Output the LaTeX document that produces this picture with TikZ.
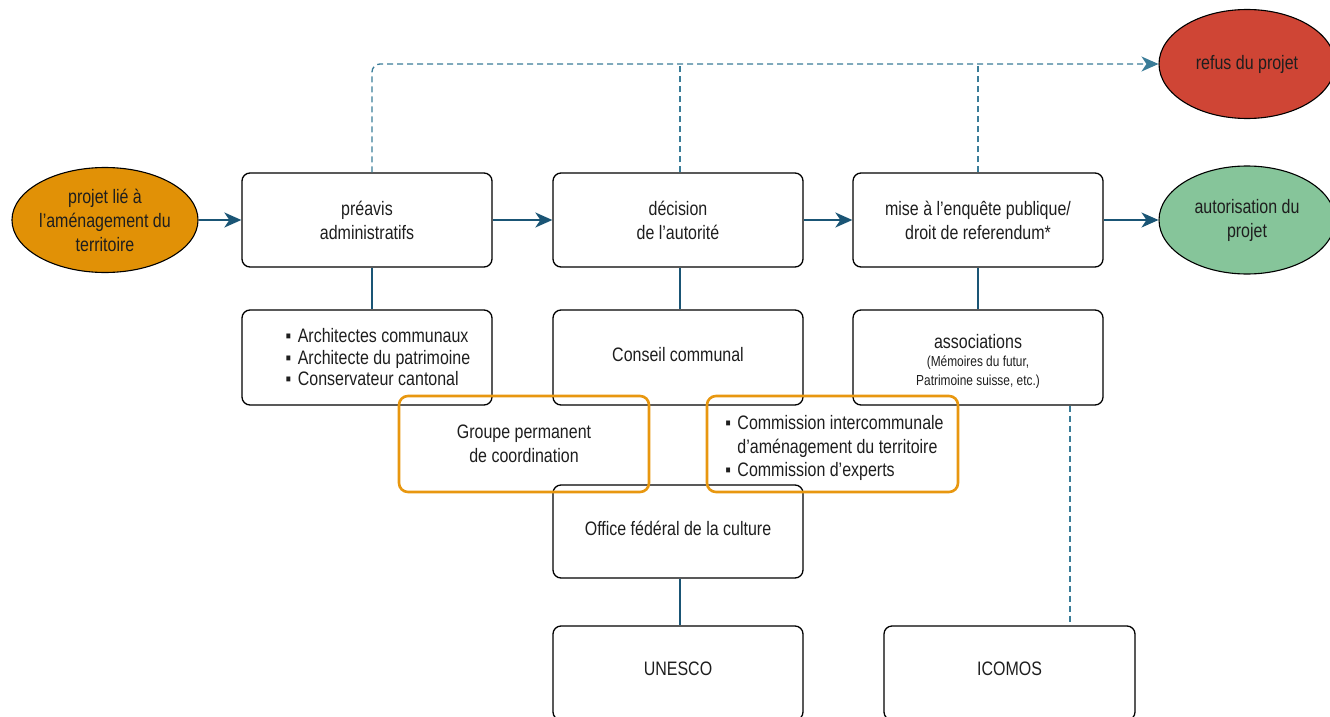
\documentclass[tikz,border=0pt]{standalone}
\usepackage{fontspec}
\setmainfont{Liberation Sans}[FakeStretch=0.82]
\usetikzlibrary{shapes.geometric,arrows.meta,calc}
\definecolor{txt}{HTML}{1E1E1E}
\definecolor{conn}{HTML}{1A5575}
\definecolor{dashc}{HTML}{3A7C98}
\definecolor{orfill}{HTML}{E19106}
\definecolor{orline}{HTML}{E8970F}
\definecolor{redfill}{HTML}{CF4535}
\definecolor{grnfill}{HTML}{86C59A}
\newcommand{\bul}{\makebox[0.62em][l]{▪}}
\newcommand{\bulsp}{\hspace*{0.62em}}
\newcommand{\smalltxt}[1]{{\fontsize{14.5}{19.5}\selectfont #1}}
\newcommand{\up}[2]{\raisebox{#1}[\height][\depth]{#2}}
\tikzset{
  every node/.style={text=txt, inner sep=0pt},
  maintext/.style={font=\fontsize{19.5}{24}\selectfont, align=center},
  box/.style={draw=black, line width=1.3pt, rounded corners=8pt,
    minimum width=250pt, minimum height=94pt, maintext},
  orbox/.style={draw=orline, line width=2.6pt, rounded corners=9pt,
    minimum width=250pt, minimum height=96pt, maintext},
  oval/.style={ellipse, draw=black, line width=1.1pt, maintext},
  inner text/.style={maintext, text=txt},
  flow/.style={draw=conn, line width=1.6pt,
    -{Stealth[length=17pt,width=15pt,inset=5pt]}},
  link/.style={draw=conn, line width=1.3pt},
  dlink/.style={draw=dashc, line width=1.3pt, dash pattern=on 6pt off 4pt},
  darrow/.style={dlink, -{Stealth[length=17pt,width=15pt,inset=5pt]}, rounded corners=8pt}
}
\begin{document}
\begin{tikzpicture}[x=1pt,y=-1pt]
\useasboundingbox (0,0) rectangle (1330,717);

% start and end points of the procedure
\node[oval, fill=orfill, minimum width=184pt, minimum height=105pt] (start) at (105,220)
  {projet lié à\\l’aménagement du\\territoire};
\node[oval, fill=redfill, minimum width=176pt, minimum height=109pt] (refus) at (1247,64)
  {refus du projet};
\node[oval, fill=grnfill, minimum width=176pt, minimum height=108pt] (auto) at (1247,220)
  {autorisation du\\projet};

% main sequence
\node[box] (pre) at (367,220) {préavis\\administratifs};
\node[box] (dec) at (678,220) {décision\\de l’autorité};
\node[box] (mise) at (978,220) {mise à l’enquête publique/\\droit de referendum*};

% bodies consulted at each step
\node[box, minimum height=95pt,
  label={[inner text, align=left, font=\fontsize{19.5}{21.5}\selectfont, xshift=11pt]center:{\bul Architectes communaux\\\bul Architecte du patrimoine\\\bul Conservateur cantonal}}]
  (arch) at (367,357.5) {};
\node[box, minimum height=95pt] (cons) at (678,357.5) {\up{3pt}{Conseil communal}};
\node[box, minimum height=95pt,
  label={[inner text, yshift=-4pt]center:{associations\\[-6pt]\smalltxt{(Mémoires du futur,}\\[-5pt]\smalltxt{Patrimoine suisse, etc.)}}}]
  (asso) at (978,357.5) {};
\node[box, minimum height=93pt] (off) at (678,531.5) {\up{3.5pt}{Office fédéral de la culture}};
\node[box] (une) at (678,673) {\up{4pt}{UNESCO}};
\node[box, minimum width=251pt] (ico) at (1009.5,673) {\up{4pt}{ICOMOS}};

% coordination groups
\node[orbox] (grp) at (524,444) {Groupe permanent\\de coordination};
\node[orbox, minimum width=251pt,
  label={[inner text, align=left, font=\fontsize{19.5}{23.5}\selectfont, yshift=-4pt, xshift=2pt]center:{\bul Commission intercommunale\\\bulsp d’aménagement du territoire\\\bul Commission d’experts}}]
  (com) at (832.5,444) {};

% flow arrows
\draw[flow] (start.east) -- (pre.west);
\draw[flow] (pre.east) -- (dec.west);
\draw[flow] (dec.east) -- (mise.west);
\draw[flow] (mise.east) -- (auto.west);

% solid links
\draw[link] ([xshift=5pt]pre.south) -- ([xshift=5pt]arch.north);
\draw[link] ([xshift=2pt]dec.south) -- ([xshift=2pt]cons.north);
\draw[link] (mise.south) -- (asso.north);
\draw[link] ([xshift=2pt]off.south) -- ([xshift=2pt]une.north);

% dashed paths towards refusal and ICOMOS
\draw[darrow] ([xshift=5pt]pre.north) |- (refus.west);
\draw[dlink] ([xshift=2pt]dec.north) -- ([xshift=2pt]dec.north |- refus.west);
\draw[dlink] (mise.north) -- (mise.north |- refus.west);
\draw[dlink] ([xshift=92pt]asso.south) -- ([xshift=92pt]asso.south |- ico.north);
\end{tikzpicture}
\end{document}
